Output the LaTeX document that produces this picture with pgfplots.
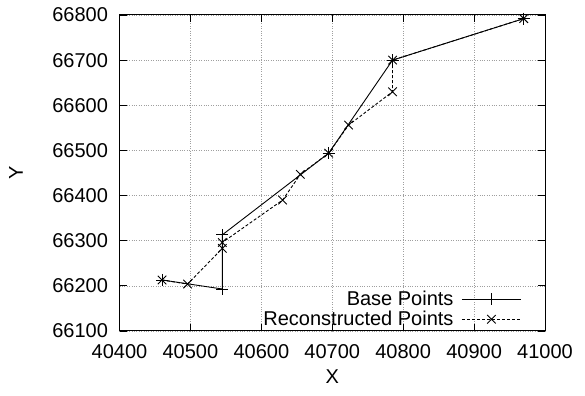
\documentclass[border=0pt]{standalone}
\usepackage{pgfplots}
\pgfplotsset{compat=1.18}
\usepackage{fontspec}
\setmainfont{Liberation Sans}
\pgfplotsset{
  mylegend/.style={legend image code/.code={\draw[mark repeat=2,mark phase=2,##1] plot coordinates {(0pt,0pt) (29.5pt,0pt) (59pt,0pt)};}}
}
\begin{document}
\begin{tikzpicture}
\begin{axis}[
  name=ax,
  scale only axis,
  width=425.5pt, height=316pt,
  xmin=40400, xmax=41000, ymin=66100, ymax=66800,
  xtick={40400,40500,...,41000},
  ytick={66100,66200,...,66800},
  scaled ticks=false,
  /pgf/number format/1000 sep={},
  /pgf/number format/assume math mode=true,
  font=\fontsize{20}{24}\selectfont,
  tick label style={font=\fontsize{20}{24}\selectfont},
  xticklabel style={yshift=-10pt},
  yticklabel style={xshift=-8pt},
  grid=major,
  major grid style={gray!75, dotted, line width=0.7pt},
  tick align=inside,
  major tick length=7pt,
  axis line style={line width=1pt},
  every tick/.style={black, line width=0.8pt},
  xlabel={X}, ylabel={Y},
  xlabel style={yshift=-4pt},
  ylabel style={at={(rel axis cs:-0.243,0.5)}, anchor=center},
  legend cell align=right,
  legend plot pos=right,
  legend style={draw=none, fill=none, at={(rel axis cs:0.945,0.005)}, anchor=south east,
    font=\fontsize{20}{24}\selectfont, row sep=0pt, column sep=6pt, inner sep=0pt},
  mylegend,
]
\addplot[black, line width=0.9pt, mark=+, mark size=6pt, mark options={solid, line width=0.9pt}] coordinates {
(40460,66213) (40545,66193) (40545,66313) (40695,66494) (40785,66700) (40970,66792)
};
\addlegendentry{Base Points}
\addplot[black, line width=0.9pt, dash pattern=on 3pt off 2pt, mark=x, mark size=6pt, mark options={solid, line width=0.9pt}] coordinates {
(40460,66213) (40496,66204) (40545,66283) (40545,66296) (40630,66390) (40655,66447) (40695,66494) (40723,66556) (40785,66630) (40785,66700) (40970,66792)
};
\addlegendentry{Reconstructed Points}
\end{axis}
\path ([shift={(-119.5pt,-65pt)}]ax.south west) rectangle ([shift={(40pt,15pt)}]ax.north east);
\end{tikzpicture}
\end{document}
